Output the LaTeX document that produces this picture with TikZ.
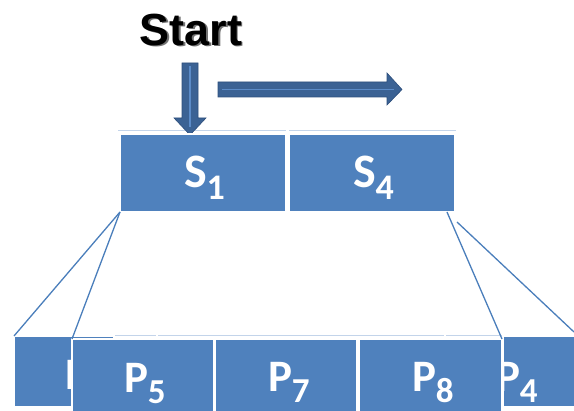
\documentclass[tikz,border=0pt]{standalone}
\usepackage{fontspec}
\newfontfamily\lblfont{Carlito}
\newfontfamily\startfont{Liberation Sans}
\definecolor{boxblue}{HTML}{4F81BD}
\definecolor{arrowdark}{HTML}{3B6294}
\definecolor{arrowedge}{HTML}{2E4F7C}
\definecolor{arrowin}{HTML}{5B8BC8}
\definecolor{linelight}{HTML}{C3D4EA}
\definecolor{conn}{HTML}{4A7EBB}
\newcommand\slbl[2]{{\lblfont\bfseries\fontsize{48}{48}\selectfont #1\raisebox{-12pt}{\fontsize{36}{36}\selectfont #2}}}
\newcommand\plbl[2]{{\lblfont\bfseries\fontsize{45}{45}\selectfont #1\raisebox{-11pt}{\fontsize{35}{35}\selectfont #2}}}
\tikzset{
  blk/.style={fill=boxblue, draw=white, line width=1.2pt, inner sep=0pt, outer sep=0pt, anchor=north west},
  lbl/.style={text=white, inner sep=0pt, outer sep=0pt, anchor=base west},
  topline/.style={draw=linelight, line width=1pt},
  connector/.style={draw=conn, line width=1.3pt},
  fatarrow/.style={fill=arrowdark, draw=arrowedge, line width=0.6pt},
  arrowcore/.style={draw=arrowin, line width=1.4pt}
}
\begin{document}
\begin{tikzpicture}[x=1pt,y=-1pt]
\useasboundingbox (0,0) rectangle (574,411);
% light top lines
\draw[topline] (118,131) -- (286,131);
\draw[topline] (289,131) -- (456,131);
\draw[topline] (14,336) -- (156,336);
\draw[topline] (158,336) -- (444,336);
\draw[topline] (446,336) -- (574,336);
% Start
\node[inner sep=0pt, anchor=base west, text=black!55, font=\startfont\bfseries\fontsize{45}{45}\selectfont] (startsh) at (140.8,47) {Start};
\node[inner sep=0pt, anchor=base west, font=\startfont\bfseries\fontsize{45}{45}\selectfont] (start) at (139.5,46) {Start};
% arrows
\draw[fatarrow] (182,63) -- (198,63) -- (198,118) -- (206,118) -- (190,135) -- (174,118) -- (182,118) -- cycle;
\draw[arrowcore] (190,66) -- (190,127);
\draw[fatarrow] (218,82) -- (387,82) -- (387,73) -- (402,89.5) -- (387,105) -- (387,97) -- (218,97) -- cycle;
\draw[arrowcore] (222,89.5) -- (394,89.5);
% top boxes
\node[blk, minimum width=166pt, minimum height=78pt] (s1) at (120,134) {};
\node[blk, minimum width=166pt, minimum height=78pt] (s4) at (289,134) {};
\node[lbl] (s1l) at (184,188) {\slbl{S}{1}};
\node[lbl] (s4l) at (353,188) {\slbl{S}{4}};
% bottom partly hidden boxes
\node[blk, minimum width=100pt, minimum height=71pt] (pl) at (14,336) {};
\node[lbl] (pll) at (65,390) {\lblfont\bfseries\fontsize{45}{45}\selectfont P};
\node[blk, minimum width=90pt, minimum height=71pt] (pr) at (503,336) {};
\node[lbl] (prl) at (496,392) {\plbl{P}{4}};
% bottom boxes
\node[blk, minimum width=142pt, minimum height=80pt] (p5) at (72,339) {};
\node[blk, minimum width=142pt, minimum height=80pt] (p7) at (215,339) {};
\node[blk, minimum width=143pt, minimum height=80pt] (p8) at (359,339) {};
\node[lbl] (p5l) at (124,393) {\plbl{P}{5}};
\node[lbl] (p7l) at (268,392) {\plbl{P}{7}};
\node[lbl] (p8l) at (412,392) {\plbl{P}{8}};
% connectors
\coordinate (c1) at (457,222);
\coordinate (c2) at (574,332);
\draw[connector] (s1.south west) -- (pl.north west);
\draw[connector] (s1.south west) -- (p5.north west);
\draw[connector] ([xshift=-8pt]s4.south east) -- (p8.north east);
\draw[connector] (c1) -- (c2);
\end{tikzpicture}
\end{document}
